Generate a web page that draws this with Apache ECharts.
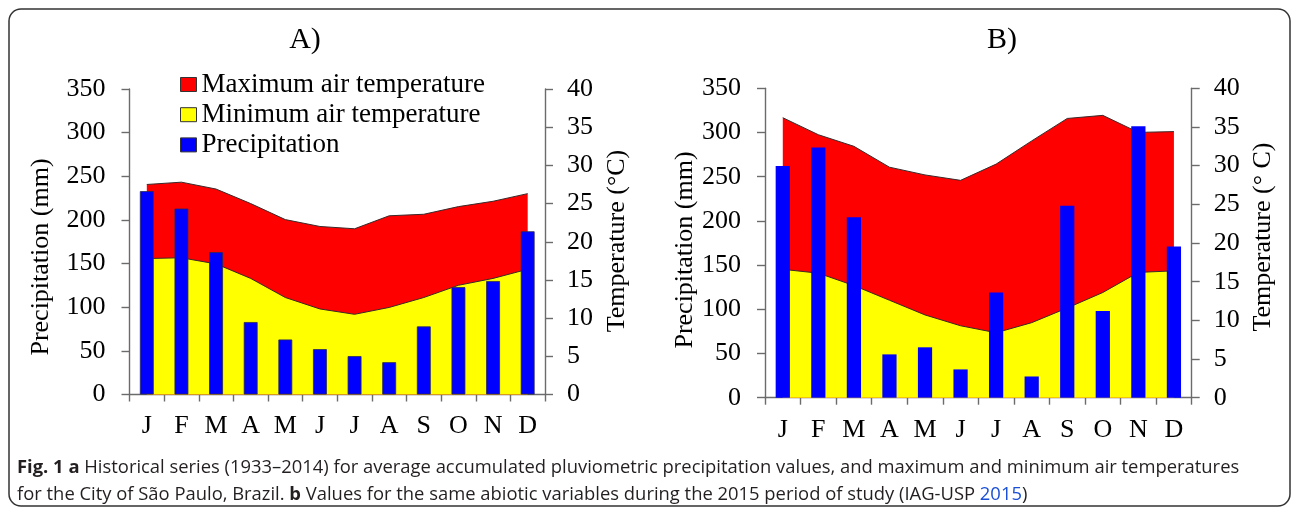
<!DOCTYPE html>
<html>
<head>
<meta charset="utf-8">
<script src="https://cdn.jsdelivr.net/npm/echarts@6/dist/echarts.min.js"></script>
<style>
html,body{margin:0;padding:0;background:#fff;}
#c{width:1292px;height:513px;}
</style>
</head>
<body>
<div id="c"></div>
<script>
// ---- data ----
const months = ['J','F','M','A','M','J','J','A','S','O','N','D'];
const precipTicks = [0, 50, 100, 150, 200, 250, 300, 350];
const tempTicks = [0, 5, 10, 15, 20, 25, 30, 35, 40];

// A) Historical series 1933–2014
const maxTempA = [27.5, 27.8, 26.9, 25.0, 22.9, 22.0, 21.7, 23.4, 23.6, 24.6, 25.3, 26.3];
const minTempA = [17.8, 17.9, 17.1, 15.2, 12.7, 11.2, 10.5, 11.4, 12.7, 14.3, 15.2, 16.4];
const precipA  = [233, 213, 163, 83, 63, 52, 44, 37, 78, 123, 130, 187];

// B) 2015
const maxTempB = [36.2, 34.0, 32.5, 29.8, 28.8, 28.1, 30.2, 33.2, 36.1, 36.5, 34.3, 34.4];
const minTempB = [16.6, 16.1, 14.5, 12.6, 10.7, 9.3, 8.4, 9.7, 11.6, 13.6, 16.2, 16.4];
const precipB  = [262, 283, 204, 49, 57, 32, 119, 24, 217, 98, 307, 171];

const seriesNames = ['Maximum air temperature', 'Minimum air temperature', 'Precipitation'];
const panelTitles = ['A)', 'B)'];
const leftAxisName = 'Precipitation (mm)';
const rightAxisNames = ['Temperature (°C)', 'Temperature (° C)'];

// ---- styling ----
const SERIF = 'Liberation Serif';
const RED = '#ff0000', YEL = '#ffff00', BLUE = '#0000ff';
const AX = '#6b6b6b';

const chart = echarts.init(document.getElementById('c'), null, {renderer: 'canvas'});

const grids = [
  {left: 129.5, top: 89, width: 415.5, height: 305.5},
  {left: 765, top: 88.3, width: 426.7, height: 309.4}
];

function xAxis(i) {
  return {
    type: 'category', gridIndex: i, data: months, boundaryGap: true,
    axisLine: {lineStyle: {color: AX, width: 1.4}},
    axisTick: {show: true, length: 7, lineStyle: {color: AX, width: 1.4}},
    axisLabel: {color: '#000', fontFamily: SERIF, fontSize: 26, margin: 19, interval: 0}
  };
}
function yLeft(i) {
  return {
    type: 'value', gridIndex: i, min: precipTicks[0], max: precipTicks[precipTicks.length-1],
    interval: precipTicks[1] - precipTicks[0],
    axisLine: {show: true, lineStyle: {color: AX, width: 1.4}},
    axisTick: {show: true, length: 8, lineStyle: {color: AX, width: 1.4}},
    splitLine: {show: false},
    axisLabel: {color: '#000', fontFamily: SERIF, fontSize: 26, margin: 24}
  };
}
function yRight(i) {
  return {
    type: 'value', gridIndex: i, position: 'right',
    min: tempTicks[0], max: tempTicks[tempTicks.length-1], interval: tempTicks[1] - tempTicks[0],
    axisLine: {show: true, lineStyle: {color: AX, width: 1.4}},
    axisTick: {show: true, length: 8, lineStyle: {color: AX, width: 1.4}},
    splitLine: {show: false},
    axisLabel: {color: '#000', fontFamily: SERIF, fontSize: 26, margin: 22}
  };
}
function areaSeries(name, data, color, xi, yi, z) {
  return {
    name: name, type: 'line', data: data, xAxisIndex: xi, yAxisIndex: yi,
    symbol: 'none', z: z, silent: true, animation: false,
    itemStyle: {color: color},
    lineStyle: {color: '#3a2a2a', width: 1},
    areaStyle: {color: color, opacity: 1}
  };
}
function barSeries(name, data, xi, yi, border) {
  return {
    name: name, type: 'bar', data: data, xAxisIndex: xi, yAxisIndex: yi,
    barWidth: '40%', z: 5, animation: false,
    itemStyle: {color: BLUE, borderColor: border ? '#2a2a55' : BLUE, borderWidth: border ? 0.8 : 0}
  };
}

const CAP = '"Open Sans"';
const textEls = [
  {type: 'text', x: 305, y: 40, style: {text: panelTitles[0], font: '30px "' + SERIF + '"', fill: '#000', align: 'center', verticalAlign: 'middle'}},
  {type: 'text', x: 1002, y: 40, style: {text: panelTitles[1], font: '30px "' + SERIF + '"', fill: '#000', align: 'center', verticalAlign: 'middle'}},
  {type: 'text', x: 41, y: 257, rotation: Math.PI/2, style: {text: leftAxisName, font: '26px "' + SERIF + '"', fill: '#000', align: 'center', verticalAlign: 'middle'}},
  {type: 'text', x: 685, y: 250, rotation: Math.PI/2, style: {text: leftAxisName, font: '26px "' + SERIF + '"', fill: '#000', align: 'center', verticalAlign: 'middle'}},
  {type: 'text', x: 617, y: 241, rotation: Math.PI/2, style: {text: rightAxisNames[0], font: '26px "' + SERIF + '"', fill: '#000', align: 'center', verticalAlign: 'middle'}},
  {type: 'text', x: 1263, y: 237, rotation: Math.PI/2, style: {text: rightAxisNames[1], font: '26px "' + SERIF + '"', fill: '#000', align: 'center', verticalAlign: 'middle'}},
  {type: 'rect', shape: {x: 9, y: 9, width: 1281, height: 497, r: 12}, style: {fill: 'none', stroke: '#333', lineWidth: 1.5}, silent: true},
  {type: 'text', x: 17, y: 481, style: {
    text: '{b|Fig. 1} {b|a} Historical series (1933–2014) for average accumulated pluviometric precipitation values, and maximum and minimum air temperatures\nfor the City of São Paulo, Brazil. {b|b} Values for the same abiotic variables during the 2015 period of study (IAG-USP {l|2015})',
    font: '18.4px ' + CAP, fill: '#231f20', align: 'left', verticalAlign: 'middle', lineHeight: 27,
    rich: {
      b: {font: 'bold 18.4px ' + CAP, fill: '#231f20', lineHeight: 27},
      l: {font: '18.4px ' + CAP, fill: '#1a4fd6', lineHeight: 27}
    }
  }}
];

const option = {
  animation: false,
  backgroundColor: '#fff',
  grid: grids,
  xAxis: [xAxis(0), xAxis(1)],
  yAxis: [yLeft(0), yRight(0), yLeft(1), yRight(1)],
  legend: {
    orient: 'vertical', left: 180, top: 71, padding: 0, itemWidth: 16, itemHeight: 14, itemGap: 3.2,
    icon: 'rect', selectedMode: false,
    textStyle: {color: '#000', fontFamily: SERIF, fontSize: 27, lineHeight: 26.5},
    data: [
      {name: seriesNames[0], itemStyle: {color: RED, borderColor: '#333', borderWidth: 1}},
      {name: seriesNames[1], itemStyle: {color: YEL, borderColor: '#333', borderWidth: 1}},
      {name: seriesNames[2], itemStyle: {color: BLUE, borderColor: '#333', borderWidth: 1}}
    ]
  },
  series: [
    areaSeries(seriesNames[0], maxTempA, RED, 0, 1, 1),
    areaSeries(seriesNames[1], minTempA, YEL, 0, 1, 2),
    barSeries(seriesNames[2], precipA, 0, 0, true),
    areaSeries(seriesNames[0], maxTempB, RED, 1, 3, 1),
    areaSeries(seriesNames[1], minTempB, YEL, 1, 3, 2),
    barSeries(seriesNames[2], precipB, 1, 2, false)
  ],
  graphic: {elements: textEls}
};
chart.setOption(option);
</script>
</body>
</html>
